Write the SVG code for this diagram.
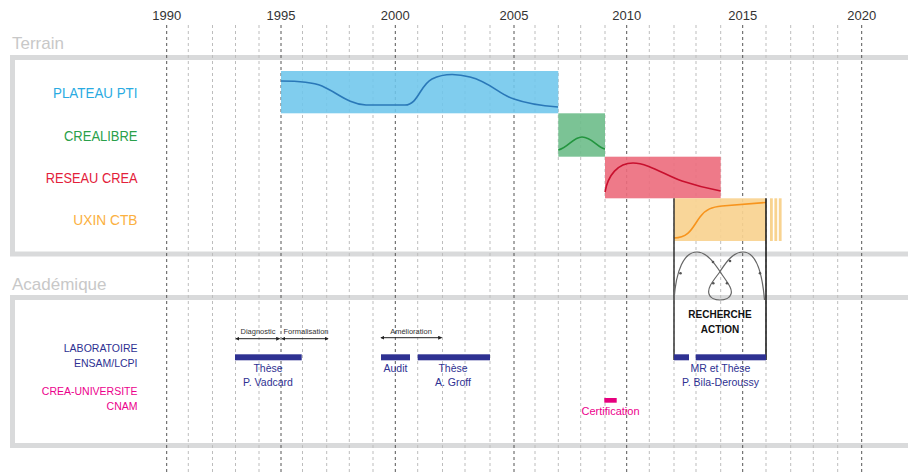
<svg xmlns="http://www.w3.org/2000/svg" width="908" height="472" viewBox="0 0 908 472">
<style>
  text { font-family: "Liberation Sans", Arial, sans-serif; }
  .yr { font-size: 13px; fill: #333; text-anchor: middle; }
  .sec { font-size: 17px; fill: #c8c8c8; }
  .box { fill: none; stroke: #d9dadb; stroke-width: 5; }
  .gmin { stroke: #bdbdbd; stroke-width: 1; stroke-dasharray: 3 3; }
  .gmaj { stroke: #555; stroke-width: 1; stroke-dasharray: 3 3; }
  .lab { font-size: 14px; }
  .alab { font-size: 10.5px; text-anchor: end; }
  .blue { fill: #2e3192; }
  .bl { font-size: 10.5px; fill: #2e3192; text-anchor: middle; }
  .ann { font-size: 7.5px; fill: #333; text-anchor: middle; }
  .arr { stroke: #222; stroke-width: 1; marker-start: url(#ah); marker-end: url(#ah); }
  .dot { fill: #555; }
</style>
<defs>
  <marker id="ah" viewBox="0 0 6 6" refX="5" refY="3" markerWidth="4" markerHeight="4" orient="auto-start-reverse" markerUnits="userSpaceOnUse">
    <path d="M0,0 L6,3 L0,6 Z" fill="#222"/>
  </marker>
</defs>
<rect width="908" height="472" fill="#fff"/>

<!-- section boxes -->
<g id="sections">
  <text class="sec" x="12" y="49">Terrain</text>
  <rect class="box" x="12.5" y="57.5" width="930" height="196.5"/>
  <text class="sec" x="12" y="290">Académique</text>
  <rect class="box" x="12.5" y="297.5" width="930" height="148"/>
</g>

<!-- year grid -->
<g id="grid">
  <line class="gmaj" x1="166.7" y1="25" x2="166.7" y2="472"/>
  <line class="gmin" x1="188.3" y1="25" x2="188.3" y2="472"/>
  <line class="gmin" x1="212.5" y1="25" x2="212.5" y2="472"/>
  <line class="gmin" x1="235.5" y1="25" x2="235.5" y2="472"/>
  <line class="gmin" x1="259" y1="25" x2="259" y2="472"/>
  <line class="gmaj" x1="281" y1="25" x2="281" y2="472"/>
  <line class="gmin" x1="302.5" y1="25" x2="302.5" y2="472"/>
  <line class="gmin" x1="326.7" y1="25" x2="326.7" y2="472"/>
  <line class="gmin" x1="349.3" y1="25" x2="349.3" y2="472"/>
  <line class="gmin" x1="373" y1="25" x2="373" y2="472"/>
  <line class="gmaj" x1="395.3" y1="25" x2="395.3" y2="472"/>
  <line class="gmin" x1="417.7" y1="25" x2="417.7" y2="472"/>
  <line class="gmin" x1="442.5" y1="25" x2="442.5" y2="472"/>
  <line class="gmin" x1="465" y1="25" x2="465" y2="472"/>
  <line class="gmin" x1="490" y1="25" x2="490" y2="472"/>
  <line class="gmaj" x1="514" y1="25" x2="514" y2="472"/>
  <line class="gmin" x1="535" y1="25" x2="535" y2="472"/>
  <line class="gmin" x1="558.3" y1="25" x2="558.3" y2="472"/>
  <line class="gmin" x1="580.7" y1="25" x2="580.7" y2="472"/>
  <line class="gmin" x1="605" y1="25" x2="605" y2="472"/>
  <line class="gmaj" x1="626.7" y1="25" x2="626.7" y2="472"/>
  <line class="gmin" x1="649.3" y1="25" x2="649.3" y2="472"/>
  <line class="gmin" x1="674" y1="25" x2="674" y2="472"/>
  <line class="gmin" x1="696" y1="25" x2="696" y2="472"/>
  <line class="gmin" x1="720.7" y1="25" x2="720.7" y2="472"/>
  <line class="gmaj" x1="742.7" y1="25" x2="742.7" y2="472"/>
  <line class="gmin" x1="766" y1="25" x2="766" y2="472"/>
  <line class="gmin" x1="790.7" y1="25" x2="790.7" y2="472"/>
  <line class="gmin" x1="813.3" y1="25" x2="813.3" y2="472"/>
  <line class="gmin" x1="837.7" y1="25" x2="837.7" y2="472"/>
  <line class="gmaj" x1="861.7" y1="25" x2="861.7" y2="472"/>
  <text class="yr" x="166.7" y="20">1990</text>
  <text class="yr" x="281" y="20">1995</text>
  <text class="yr" x="395.3" y="20">2000</text>
  <text class="yr" x="514" y="20">2005</text>
  <text class="yr" x="626.7" y="20">2010</text>
  <text class="yr" x="742.7" y="20">2015</text>
  <text class="yr" x="861.7" y="20">2020</text>
</g>

<!-- terrain rows -->
<g id="plateau-pti">
  <text class="lab" x="53" y="98" fill="#29abe2" textLength="84.5" lengthAdjust="spacingAndGlyphs">PLATEAU PTI</text>
  <rect x="281" y="71" width="277.3" height="42.3" fill="#6ec6ec" fill-opacity="0.88"/>
  <path d="M281,81 C300,81 312,82 322,86 C338,93 348,104 366,105 L405,105 C418,105 420,85 432,79 C442,74 455,73 470,77 C490,82 500,95 514,99 C528,104 545,106 558,107" fill="none" stroke="#2a78b8" stroke-width="1.6"/>
</g>
<g id="crealibre">
  <text class="lab" x="64" y="140.5" fill="#2aa04a" textLength="73.5" lengthAdjust="spacingAndGlyphs">CREALIBRE</text>
  <rect x="558.3" y="113.3" width="46.7" height="43.4" fill="#6dbd8a" fill-opacity="0.9"/>
  <path d="M558.3,150 C568,148 573,137 582,137 C592,137 598,148 605,149" fill="none" stroke="#23953f" stroke-width="1.6"/>
</g>
<g id="reseau-crea">
  <text class="lab" x="45.7" y="183.3" fill="#e3203a" textLength="91.8" lengthAdjust="spacingAndGlyphs">RESEAU CREA</text>
  <rect x="605" y="156.7" width="115.7" height="41.6" fill="#ec6c7c" fill-opacity="0.9"/>
  <path d="M605,192 C608,175 618,163 633,163 C648,163 665,175 682,181 C697,186 710,189 720.7,191" fill="none" stroke="#c8102e" stroke-width="1.6"/>
</g>
<g id="uxin-ctb">
  <text class="lab" x="73.3" y="225" fill="#fbb040" textLength="64.2" lengthAdjust="spacingAndGlyphs">UXIN CTB</text>
  <rect x="674" y="198.3" width="92" height="42.7" fill="#f8d390" fill-opacity="0.92"/>
  <rect x="770" y="198.3" width="2.8" height="42.7" fill="#f8d390"/>
  <rect x="774.4" y="198.3" width="2.8" height="42.7" fill="#f8d390"/>
  <rect x="778.8" y="198.3" width="2.8" height="42.7" fill="#f8d390"/>
  <path d="M674,238 C690,238 693,226 700,217 C706,209 712,207 722,206 L766,202.5" fill="none" stroke="#f7941d" stroke-width="1.6"/>
</g>

<!-- recherche action -->
<g id="recherche-action">
  <line x1="674" y1="198.3" x2="674" y2="360" stroke="#333" stroke-width="1.5"/>
  <line x1="766" y1="198.3" x2="766" y2="360" stroke="#111" stroke-width="1.5"/>
  <path d="M674,300 C676,270 684,252 697,252 C707,252 715,264 721,273 C727,282 733,289 731,294 C729,302 711,302 709,294 C707,288 713,281 719,273 C725,264 732,252 743,252 C755,252 762,270 764.5,300" fill="none" stroke="#666" stroke-width="1.2"/>
  <circle class="dot" cx="680.5" cy="273.3" r="1.3"/>
  <circle class="dot" cx="713" cy="262" r="1.3"/>
  <circle class="dot" cx="727" cy="283.3" r="1.3"/>
  <circle class="dot" cx="713.3" cy="283.3" r="1.3"/>
  <circle class="dot" cx="730" cy="261" r="1.3"/>
  <circle class="dot" cx="760" cy="273.3" r="1.3"/>
  <text x="720" y="318" font-size="10" font-weight="bold" fill="#111" text-anchor="middle">RECHERCHE</text>
  <text x="720" y="333" font-size="10" font-weight="bold" fill="#111" text-anchor="middle">ACTION</text>
</g>

<!-- academic rows -->
<g id="laboratoire">
  <text class="alab blue" x="137.5" y="352">LABORATOIRE</text>
  <text class="alab blue" x="137.5" y="366.5">ENSAM/LCPI</text>
</g>
<g id="crea-universite">
  <text class="alab" x="137.5" y="395" fill="#ec008c">CREA-UNIVERSITE</text>
  <text class="alab" x="137.5" y="410" fill="#ec008c">CNAM</text>
</g>

<g id="these-vadcard">
  <rect class="blue" x="235" y="354.3" width="66.7" height="6"/>
  <text class="bl" x="268" y="372">Thèse</text>
  <text class="bl" x="268" y="386">P. Vadcard</text>
  <text class="ann" x="258" y="334">Diagnostic</text>
  <text class="ann" x="306" y="334">Formalisation</text>
</g>
<g id="audit">
  <rect class="blue" x="381" y="354.3" width="29" height="6"/>
  <text class="bl" x="395.5" y="372">Audit</text>
  <text class="ann" x="411" y="334">Amélioration</text>
</g>
<g id="these-groff">
  <rect class="blue" x="417.7" y="354.3" width="72.3" height="6"/>
  <text class="bl" x="453" y="372">Thèse</text>
  <text class="bl" x="453" y="386">A. Groff</text>
</g>
<g id="these-bila">
  <rect class="blue" x="674" y="354.3" width="15" height="6"/>
  <rect class="blue" x="695.7" y="354.3" width="70.3" height="6"/>
  <text class="bl" x="720.5" y="372">MR et Thèse</text>
  <text class="bl" x="720.5" y="386">P. Bila-Deroussy</text>
</g>
<g id="certification">
  <rect x="604.3" y="398" width="12.4" height="4.7" fill="#e6007e"/>
  <text x="610.5" y="415" font-size="11" fill="#ec008c" text-anchor="middle">Certification</text>
</g>

<g id="connectors">
  <line class="arr" x1="236" y1="338.7" x2="279.5" y2="338.7"/>
  <line class="arr" x1="282" y1="338.7" x2="328" y2="338.7"/>
  <line class="arr" x1="381" y1="337.7" x2="441.5" y2="337.7"/>
</g>
</svg>
